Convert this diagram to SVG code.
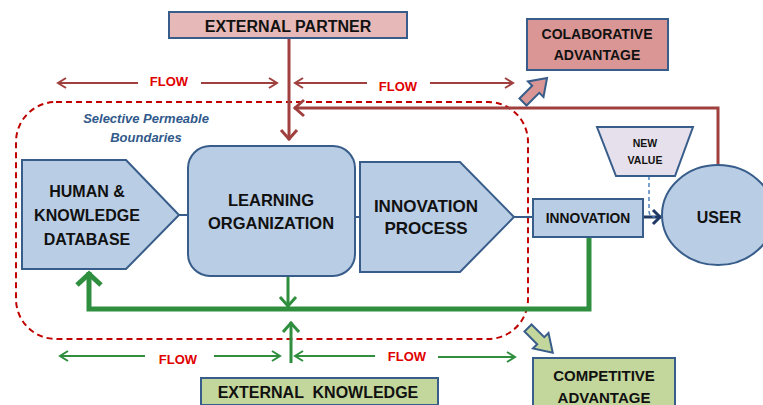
<svg xmlns="http://www.w3.org/2000/svg" width="763" height="405" viewBox="0 0 763 405">
<style>
.t{font-family:"Liberation Sans",Arial,sans-serif;font-weight:bold;fill:#111;text-anchor:middle;dominant-baseline:central}
.flow{font-family:"Liberation Sans",Arial,sans-serif;font-weight:bold;fill:#e00000;font-size:13px;text-anchor:middle;dominant-baseline:central}
.sel{font-family:"Liberation Sans",Arial,sans-serif;font-weight:bold;font-style:italic;fill:#31598a;font-size:13px;text-anchor:middle;dominant-baseline:central}
.blue{fill:#b9cde5;stroke:#385d8a;stroke-width:2}
.fr{stroke:#a0403e;stroke-width:2;fill:none}
.fg{stroke:#2f8f3f;stroke-width:2;fill:none}
</style>
<defs>
<marker id="mRed" markerUnits="userSpaceOnUse" markerWidth="20" markerHeight="20" refX="0" refY="0" orient="auto" overflow="visible"><path d="M-8,-5 L0,0 L-8,5" fill="none" stroke="#a0403e" stroke-width="2"/></marker>
<marker id="mGreen" markerUnits="userSpaceOnUse" markerWidth="20" markerHeight="20" refX="0" refY="0" orient="auto" overflow="visible"><path d="M-8,-5 L0,0 L-8,5" fill="none" stroke="#2f8f3f" stroke-width="2"/></marker>
<marker id="mRedBig" markerUnits="userSpaceOnUse" markerWidth="30" markerHeight="30" refX="0" refY="0" orient="auto" overflow="visible"><path d="M-10,-8 L-1,0 L-10,8" fill="none" stroke="#a0403e" stroke-width="3"/></marker>
<marker id="mGreenMid" markerUnits="userSpaceOnUse" markerWidth="30" markerHeight="30" refX="0" refY="0" orient="auto" overflow="visible"><path d="M-10,-8 L-1,0 L-10,8" fill="none" stroke="#2f8f3f" stroke-width="3"/></marker>
<marker id="mGreenBig" markerUnits="userSpaceOnUse" markerWidth="40" markerHeight="40" refX="0" refY="0" orient="auto" overflow="visible"><path d="M-13,-12 L-2,0 L-13,12" fill="none" stroke="#2f8f3f" stroke-width="5"/></marker>
<marker id="mNavy" markerUnits="userSpaceOnUse" markerWidth="30" markerHeight="30" refX="0" refY="0" orient="auto" overflow="visible"><path d="M-8,-7 L-1,0 L-8,7" fill="none" stroke="#1f3864" stroke-width="3"/></marker>
</defs>

<!-- boundary -->
<rect x="16" y="102" width="512" height="237" rx="40" ry="40" fill="none" stroke="#c00000" stroke-width="2" stroke-dasharray="6,4"/>
<text class="sel" x="146" y="118">Selective Permeable</text>
<text class="sel" x="146" y="137">Boundaries</text>

<g id="connectors">
  <!-- flow arrows top -->
  <line class="fr" x1="138" y1="83" x2="58" y2="83" marker-end="url(#mRed)"/>
  <line class="fr" x1="201" y1="83" x2="277" y2="83" marker-end="url(#mRed)"/>
  <line class="fr" x1="367" y1="83" x2="295" y2="83" marker-end="url(#mRed)"/>
  <line class="fr" x1="430" y1="83" x2="513" y2="83" marker-end="url(#mRed)"/>
  <text class="flow" x="169" y="81">FLOW</text>
  <text class="flow" x="398" y="86">FLOW</text>
  <!-- flow arrows bottom -->
  <line class="fg" x1="145" y1="356" x2="60" y2="356" marker-end="url(#mGreen)"/>
  <line class="fg" x1="214" y1="356" x2="280" y2="356" marker-end="url(#mGreen)"/>
  <line class="fg" x1="375" y1="356" x2="295" y2="356" marker-end="url(#mGreen)"/>
  <line class="fg" x1="438" y1="357" x2="515" y2="357" marker-end="url(#mGreen)"/>
  <text class="flow" x="178" y="359">FLOW</text>
  <text class="flow" x="407" y="356">FLOW</text>
  <!-- external partner down -->
  <line x1="289" y1="38" x2="289" y2="140" stroke="#a0403e" stroke-width="3" marker-end="url(#mRedBig)"/>
  <!-- user loop back -->
  <path d="M718,165 V108 H294" fill="none" stroke="#a0403e" stroke-width="3" marker-end="url(#mRedBig)"/>
  <!-- node links -->
  <line x1="179" y1="215" x2="189" y2="215" stroke="#385d8a" stroke-width="2"/>
  <line x1="355" y1="217" x2="361" y2="217" stroke="#385d8a" stroke-width="2"/>
  <line x1="514" y1="217" x2="533" y2="217" stroke="#385d8a" stroke-width="2"/>
  <line x1="643" y1="217" x2="661" y2="217" stroke="#1f3864" stroke-width="3" marker-end="url(#mNavy)"/>
  <path d="M649,176 V211 Q649,217 655,217" fill="none" stroke="#4f81bd" stroke-width="1.5" stroke-dasharray="4,3"/>
  <!-- green loop -->
  <path d="M589,237 V309 H89 V272" fill="none" stroke="#2f8f3f" stroke-width="5" marker-end="url(#mGreenBig)"/>
  <line x1="288" y1="276" x2="288" y2="307" stroke="#2f8f3f" stroke-width="3" marker-end="url(#mGreenMid)"/>
  <line x1="291" y1="363" x2="291" y2="322" stroke="#2f8f3f" stroke-width="3" marker-end="url(#mGreenMid)"/>
  <!-- block arrows -->
  <polygon points="0,-5 18,-5 18,-11 34,0 18,11 18,5 0,5" transform="translate(523,102) rotate(-45)" fill="#d99694" stroke="#385d8a" stroke-width="2"/>
  <polygon points="0,-5 18,-5 18,-11 35,0 18,11 18,5 0,5" transform="translate(528,328) rotate(45)" fill="#c3d69b" stroke="#385d8a" stroke-width="2"/>
</g>

<g id="external-partner">
  <rect x="169" y="12" width="238" height="26" fill="#e6b9b8" stroke="#385d8a" stroke-width="2"/>
  <text class="t" x="288" y="26" font-size="16">EXTERNAL PARTNER</text>
</g>
<g id="colaborative-advantage">
  <rect x="527" y="19" width="141" height="51" fill="#d99694" stroke="#385d8a" stroke-width="2"/>
  <text class="t" x="597" y="34" font-size="14">COLABORATIVE</text>
  <text class="t" x="597" y="55" font-size="14">ADVANTAGE</text>
</g>
<g id="human-knowledge-database">
  <polygon class="blue" points="22,160 126,160 179,215 126,269 22,269"/>
  <text class="t" x="87" y="191" font-size="16">HUMAN &amp;</text>
  <text class="t" x="87" y="215" font-size="16">KNOWLEDGE</text>
  <text class="t" x="87" y="239" font-size="16">DATABASE</text>
</g>
<g id="learning-organization">
  <rect class="blue" x="188" y="146" width="167" height="130" rx="22" ry="22"/>
  <text class="t" x="271" y="200" font-size="16.5">LEARNING</text>
  <text class="t" x="271" y="223" font-size="16.5">ORGANIZATION</text>
</g>
<g id="innovation-process">
  <polygon class="blue" points="360,162 460,162 514,217 460,272 360,272"/>
  <text class="t" x="426" y="206" font-size="17">INNOVATION</text>
  <text class="t" x="426" y="228" font-size="17">PROCESS</text>
</g>
<g id="innovation">
  <rect class="blue" x="533" y="199" width="110" height="38"/>
  <text class="t" x="588" y="218" font-size="13.8">INNOVATION</text>
</g>
<g id="new-value">
  <polygon points="597,127 693,127 675,176 616,176" fill="#e6e0ec" stroke="#385d8a" stroke-width="2"/>
  <text class="t" x="645" y="143" font-size="10.5">NEW</text>
  <text class="t" x="645" y="160" font-size="10.5">VALUE</text>
</g>
<g id="user">
  <ellipse class="blue" cx="718" cy="215" rx="56" ry="50"/>
  <text class="t" x="719" y="217" font-size="16">USER</text>
</g>
<g id="external-knowledge">
  <rect x="201" y="378" width="237" height="27" fill="#c3d69b" stroke="#385d8a" stroke-width="2"/>
  <text class="t" x="318" y="392" font-size="16" xml:space="preserve">EXTERNAL  KNOWLEDGE</text>
</g>
<g id="competitive-advantage">
  <rect x="533" y="358" width="142" height="52" fill="#c3d69b" stroke="#385d8a" stroke-width="2"/>
  <text class="t" x="604" y="375" font-size="15">COMPETITIVE</text>
  <text class="t" x="604" y="397" font-size="15">ADVANTAGE</text>
</g>
</svg>
